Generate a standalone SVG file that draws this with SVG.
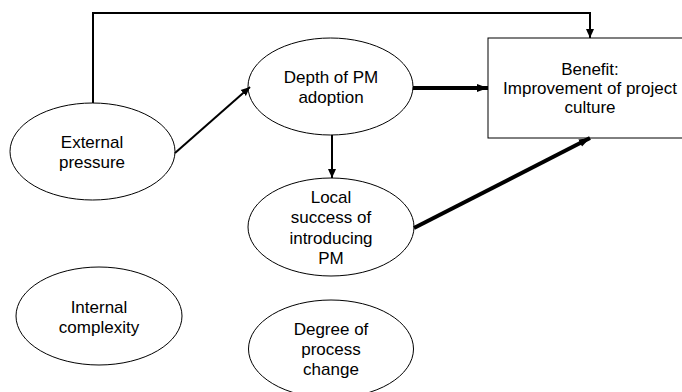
<svg xmlns="http://www.w3.org/2000/svg" width="682" height="392" viewBox="0 0 682 392">
<style>
.node{fill:#fff;stroke:#000;stroke-width:1}
.t{font-family:"Liberation Sans",Arial,sans-serif;font-size:17px;fill:#000;text-anchor:middle}
.med{fill:none;stroke:#000;stroke-width:2}
.thick{fill:none;stroke:#000;stroke-width:4}
</style>
<defs>
<marker id="am" markerUnits="userSpaceOnUse" markerWidth="10" markerHeight="10" refX="9" refY="5" orient="auto"><path d="M0,1 L9,5 L0,9 Z" fill="#000"/></marker>
<marker id="at" markerUnits="userSpaceOnUse" markerWidth="12" markerHeight="10" refX="11" refY="5" orient="auto"><path d="M0,1 L11,5 L0,9 Z" fill="#000"/></marker>
</defs>
<g id="ext"><ellipse class="node" cx="92.5" cy="151.5" rx="82.5" ry="48.5"/><text class="t" x="92" y="148">External</text><text class="t" x="92" y="168">pressure</text></g>
<g id="depth"><ellipse class="node" cx="330.5" cy="86.5" rx="82.5" ry="48.5"/><text class="t" x="331" y="83">Depth of PM</text><text class="t" x="331" y="103">adoption</text></g>
<g id="benefit"><rect class="node" x="488" y="38" width="206" height="100"/><text class="t" x="590" y="75">Benefit:</text><text class="t" x="590" y="94">Improvement of project</text><text class="t" x="590" y="113">culture</text></g>
<g id="local"><ellipse class="node" cx="331" cy="227" rx="83" ry="49"/><text class="t" x="331" y="203">Local</text><text class="t" x="331" y="223">success of</text><text class="t" x="331" y="244">introducing</text><text class="t" x="331" y="264">PM</text></g>
<g id="internal"><ellipse class="node" cx="99" cy="316" rx="83" ry="49"/><text class="t" x="99" y="313">Internal</text><text class="t" x="99" y="333">complexity</text></g>
<g id="degree"><ellipse class="node" cx="331" cy="349" rx="82.5" ry="49"/><text class="t" x="331" y="335">Degree of</text><text class="t" x="331" y="355">process</text><text class="t" x="331" y="375">change</text></g>
<g id="connectors">
<path class="med" d="M93,103 L93,13 L590,13 L590,38" marker-end="url(#am)"/>
<path class="med" d="M175,153 L250,87" marker-end="url(#am)"/>
<path class="med" d="M332,135 L332,178" marker-end="url(#am)"/>
<path class="thick" d="M413,88 L488,88" marker-end="url(#at)"/>
<path class="thick" d="M414,228 L590,138" marker-end="url(#at)"/>
</g>
</svg>
